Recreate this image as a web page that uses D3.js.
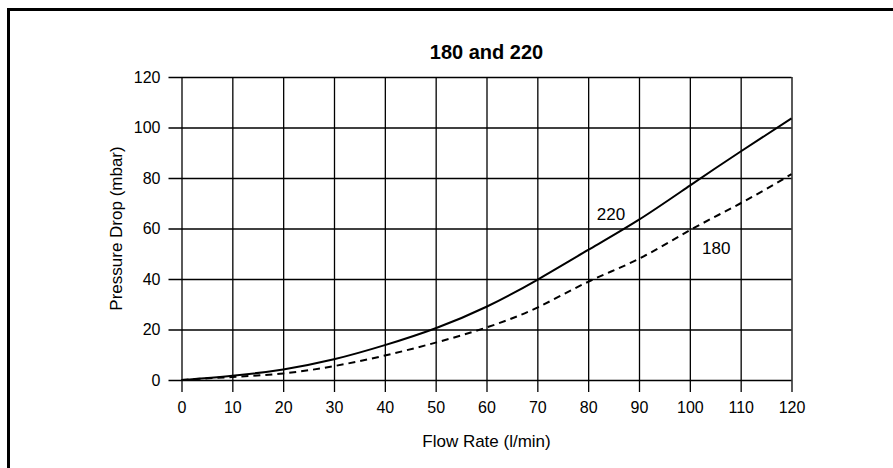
<!DOCTYPE html>
<html><head><meta charset="utf-8">
<script src="https://cdn.jsdelivr.net/npm/d3@7"></script>
<style>
html,body{margin:0;padding:0;background:#fff;}
text{font-family:"Liberation Sans",Arial,Helvetica,sans-serif;fill:#000;}
</style></head>
<body>
<svg id="c" width="893" height="468"></svg>
<script>
const title = "180 and 220";
const xLabel = "Flow Rate (l/min)";
const yLabel = "Pressure Drop (mbar)";
const flow = [0,10,20,30,40,50,60,70,80,90,100,110,120];
const p220 = [0,1.7,4.2,8.2,13.8,20.5,29,39.7,51.5,63.5,77,90.5,103.6];
const p180 = [0,1.2,2.6,5.5,9.7,14.8,20.8,28.7,38.9,48,59.3,70,81.5];
const xTicks = [0,10,20,30,40,50,60,70,80,90,100,110,120];
const yTicks = [0,20,40,60,80,100,120];
const seriesNames = ["220","180"];

const svg = d3.select("#c");
const x = d3.scaleLinear().domain([0,120]).range([181.5,791.5]);
const y = d3.scaleLinear().domain([0,120]).range([380,77]);

// frame (top and left only)
svg.append("line").attr("x1",8.5).attr("x2",893).attr("y1",9.5).attr("y2",9.5).attr("stroke","#000").attr("stroke-width",3);
svg.append("line").attr("x1",8.5).attr("x2",8.5).attr("y1",8).attr("y2",468).attr("stroke","#000").attr("stroke-width",3);

// grid via axes
const gx = svg.append("g").attr("transform",`translate(0,${y(0)})`)
  .call(d3.axisBottom(x).tickValues(xTicks).tickSizeOuter(0).tickPadding(0));
gx.select(".domain").remove();
gx.selectAll(".tick line").attr("y2",-(y(0)-y(120))).attr("y1",12).attr("stroke","#000").attr("stroke-width",1.3);
gx.selectAll(".tick text").attr("y",22).attr("font-size",16).attr("font-family","Liberation Sans, Arial, sans-serif");

const gy = svg.append("g").attr("transform",`translate(${x(0)},0)`)
  .call(d3.axisLeft(y).tickValues(yTicks).tickSizeOuter(0).tickPadding(0));
gy.select(".domain").remove();
gy.selectAll(".tick line").attr("x1",-13).attr("x2",x(120)-x(0)).attr("stroke","#000").attr("stroke-width",1.3);
gy.selectAll(".tick text").attr("x",-21).attr("font-size",16).attr("font-family","Liberation Sans, Arial, sans-serif");

// curves
const line = d3.line().x((d,i)=>x(flow[i])).y(d=>y(d)).curve(d3.curveNatural);
svg.append("path").datum(p220).attr("d",line).attr("fill","none").attr("stroke","#000").attr("stroke-width",2);
svg.append("path").datum(p180).attr("d",line).attr("fill","none").attr("stroke","#000").attr("stroke-width",2).attr("stroke-dasharray","7,5");

// series labels
svg.append("text").attr("x",x(81.7)).attr("y",y(63.4)).attr("font-size",17).text(seriesNames[0]);
svg.append("text").attr("x",x(102.4)).attr("y",y(49.9)).attr("font-size",17).text(seriesNames[1]);

// title & axis labels
svg.append("text").attr("x",(x(0)+x(120))/2).attr("y",59).attr("text-anchor","middle").attr("font-size",20).attr("font-weight","bold").text(title);
svg.append("text").attr("x",(x(0)+x(120))/2).attr("y",447).attr("text-anchor","middle").attr("font-size",17).text(xLabel);
svg.append("text").attr("transform",`translate(122,${(y(0)+y(120))/2}) rotate(-90)`).attr("text-anchor","middle").attr("font-size",17).text(yLabel);
</script>
</body></html>
